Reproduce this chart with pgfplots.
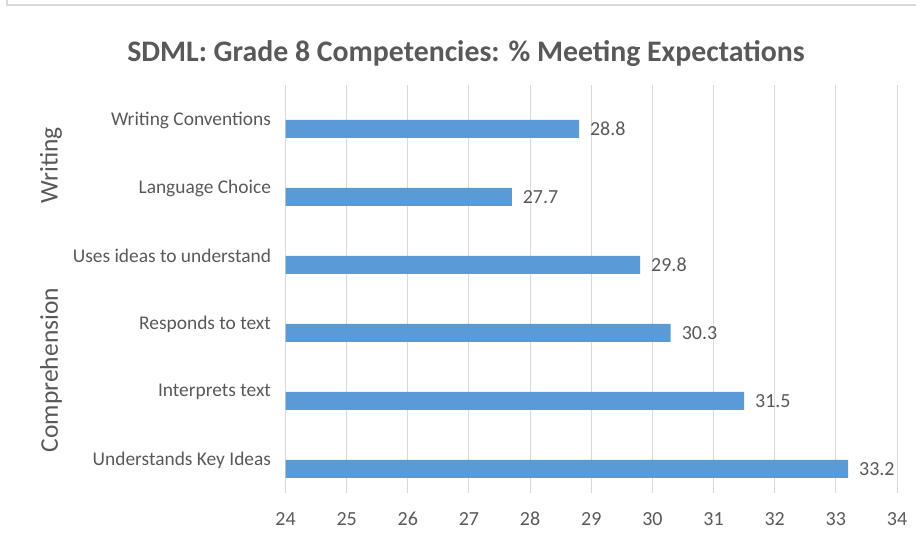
\documentclass[border=0pt]{standalone}
\usepackage{pgfplots}
\pgfplotsset{compat=1.18}
\usepackage{fontspec}
\setmainfont{Carlito}
\definecolor{barblue}{HTML}{5B9BD5}
\definecolor{txtgray}{HTML}{595959}
\definecolor{gridgray}{HTML}{D9D9D9}
\begin{document}
\begin{tikzpicture}[x=1pt,y=1pt]
\useasboundingbox (0,0) rectangle (916,541);
\draw[gridgray, line width=2pt] (7,541) -- (7,536) -- (916,536);
\begin{axis}[
  at={(285.5pt,48pt)}, anchor=south west,
  scale only axis, width=611.5pt, height=408pt,
  xbar, bar width=18pt,
  xmin=24, xmax=34, ymin=-0.353, ymax=5.647,
  xtick={24,25,...,34},
  ytick={0,1,2,3,4,5},
  yticklabels={Understands Key Ideas,Interprets text,Responds to text,Uses ideas to understand,Language Choice,Writing Conventions},
  axis line style={draw=none},
  xmajorgrids, major grid style={gridgray, line width=1pt},
  major tick length=0pt,
  tick label style={text=txtgray},
  xticklabel style={font=\fontsize{20}{24}\selectfont, anchor=base, yshift=-33pt},
  yticklabel style={font=\fontsize{19.4}{23}\selectfont, xshift=-11pt, yshift=9pt},
  /pgf/number format/assume math mode=true,
  nodes near coords={\pgfmathprintnumber[fixed,fixed zerofill,precision=1,assume math mode=true]{\pgfplotspointmeta}},
  every node near coord/.append style={font=\fontsize{20}{24}\selectfont, text=txtgray, xshift=7.5pt},
  clip=true,
]
\addplot[fill=barblue, draw=none] coordinates {(33.2,0) (31.5,1) (30.3,2) (29.8,3) (27.7,4) (28.8,5)};
\end{axis}
\node[anchor=base, text=txtgray, font=\fontsize{29.8}{34}\selectfont\bfseries] at (466,479) {SDML: Grade 8 Competencies: \% Meeting Expectations};
\node[rotate=90, text=txtgray, font=\fontsize{25.5}{28}\selectfont] at (51,375.5) {Writing};
\node[rotate=90, text=txtgray, font=\fontsize{25.5}{28}\selectfont] at (51,171) {Comprehension};
\end{tikzpicture}
\end{document}
